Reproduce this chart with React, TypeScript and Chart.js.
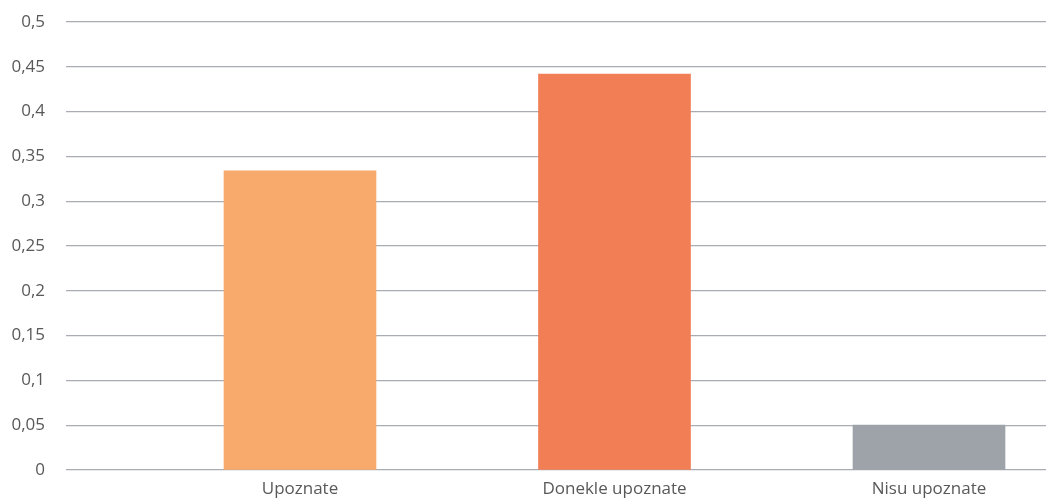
import React, { useEffect, useRef } from "react";
import { Chart, registerables } from "chart.js";

Chart.register(...registerables);

const categories = ["Upoznate", "Donekle upoznate", "Nisu upoznate"];
const values = [0.334, 0.442, 0.05];
const barColors = ["#F8AA6C", "#F27E55", "#9EA3AA"];
const yTicks = [0, 0.05, 0.1, 0.15, 0.2, 0.25, 0.3, 0.35, 0.4, 0.45, 0.5];

export default function App() {
  const ref = useRef<HTMLCanvasElement | null>(null);
  useEffect(() => {
    document.body.style.margin = "0";
    const ctx = ref.current!;
    const chart = new Chart(ctx, {
      type: "bar",
      data: {
        datasets: [
          {
            data: values.map((v, i) => ({ x: i, y: v })),
            backgroundColor: barColors,
            barThickness: 152,
          },
        ],
      },
      options: {
        animation: false,
        responsive: false,
        maintainAspectRatio: false,
        layout: { padding: { top: 22, right: 0, left: 0, bottom: 0 } },
        plugins: { legend: { display: false }, tooltip: { enabled: false } },
        scales: {
          x: {
            type: "linear",
            offset: false,
            min: -0.744,
            max: 2.372,
            grid: { display: false, drawTicks: false },
            border: { display: false },
            afterBuildTicks: (axis: any) => {
              axis.ticks = categories.map((_, i) => ({ value: i }));
            },
            afterFit: (axis: any) => {
              axis.height = 31;
              axis.paddingLeft = 0;
              axis.paddingRight = 0;
            },
            ticks: {
              autoSkip: false,
              maxRotation: 0,
              padding: 9,
              color: "#595959",
              font: { family: "'Open Sans'", size: 17 },
              callback: (v: any) => categories[v] ?? "",
            },
          },
          y: {
            min: 0,
            max: 0.5,
            afterBuildTicks: (axis: any) => {
              axis.ticks = yTicks.map((v) => ({ value: v }));
            },
            afterFit: (axis: any) => {
              axis.width = 66;
              axis.paddingTop = 0;
              axis.paddingBottom = 0;
            },
            grid: { color: "#A9ACB2", lineWidth: 1.3, drawTicks: false },
            border: { display: false },
            ticks: {
              padding: 21,
              color: "#595959",
              font: { family: "'Open Sans'", size: 17 },
              callback: (v: any) => String(Number(Number(v).toFixed(2))).replace(".", ","),
            },
          },
        },
      },
    });
    return () => chart.destroy();
  }, []);
  return (
    <div style={{ position: "absolute", left: 0, top: 0, width: 1046, height: 501, background: "#fff" }}>
      <canvas ref={ref} width={1046} height={501} style={{ width: 1046, height: 501 }} />
    </div>
  );
}
